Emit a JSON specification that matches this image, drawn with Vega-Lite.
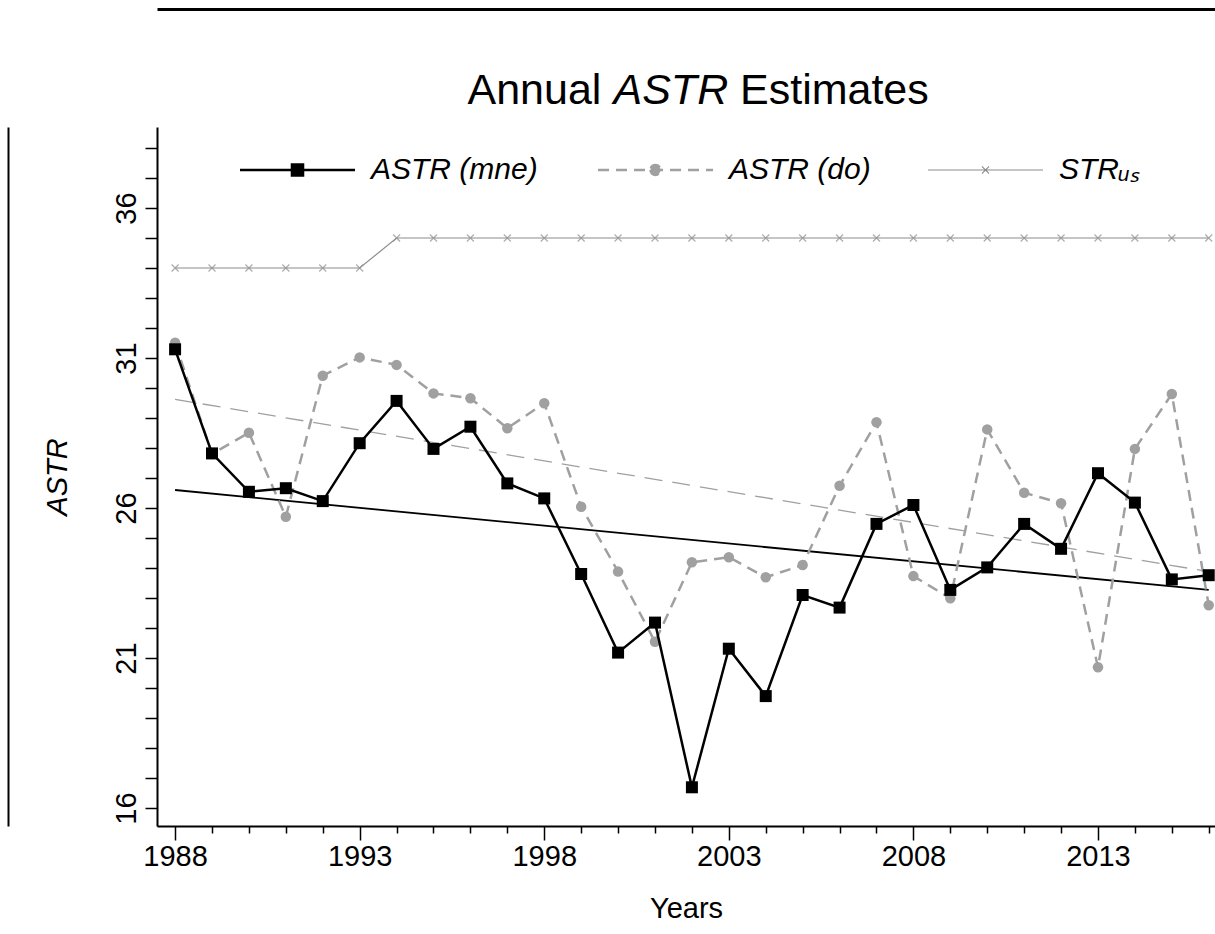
{
  "$schema": "https://vega.github.io/schema/vega-lite/v6.json",
  "autosize": "none",
  "padding": {"left": 157, "top": 127, "right": 0, "bottom": 108},
  "width": 1058,
  "height": 699,
  "background": "white",
  "config": {
    "view": {"stroke": null},
    "font": "Liberation Sans",
    "axis": {
      "grid": false,
      "domainColor": "black",
      "domainWidth": 2,
      "tickColor": "black",
      "tickWidth": 1.5,
      "labelColor": "black",
      "titleColor": "black",
      "labelFont": "Liberation Sans",
      "titleFont": "Liberation Sans",
      "labelFontSize": 29,
      "titleFontSize": 29,
      "titleFontWeight": "normal",
      "labelOverlap": false,
      "labelFlush": false
    }
  },
  "resolve": {"axis": {"x": "independent", "y": "independent"}},
  "data": {
    "values": [
      {"year": 1988, "series": "ASTR (mne)", "value": 31.29},
      {"year": 1989, "series": "ASTR (mne)", "value": 27.82},
      {"year": 1990, "series": "ASTR (mne)", "value": 26.54},
      {"year": 1991, "series": "ASTR (mne)", "value": 26.66},
      {"year": 1992, "series": "ASTR (mne)", "value": 26.23},
      {"year": 1993, "series": "ASTR (mne)", "value": 28.16},
      {"year": 1994, "series": "ASTR (mne)", "value": 29.57},
      {"year": 1995, "series": "ASTR (mne)", "value": 27.97},
      {"year": 1996, "series": "ASTR (mne)", "value": 28.71},
      {"year": 1997, "series": "ASTR (mne)", "value": 26.82},
      {"year": 1998, "series": "ASTR (mne)", "value": 26.32},
      {"year": 1999, "series": "ASTR (mne)", "value": 23.8},
      {"year": 2000, "series": "ASTR (mne)", "value": 21.18},
      {"year": 2001, "series": "ASTR (mne)", "value": 22.18},
      {"year": 2002, "series": "ASTR (mne)", "value": 16.69},
      {"year": 2003, "series": "ASTR (mne)", "value": 21.31},
      {"year": 2004, "series": "ASTR (mne)", "value": 19.73},
      {"year": 2005, "series": "ASTR (mne)", "value": 23.1},
      {"year": 2006, "series": "ASTR (mne)", "value": 22.68},
      {"year": 2007, "series": "ASTR (mne)", "value": 25.47},
      {"year": 2008, "series": "ASTR (mne)", "value": 26.1},
      {"year": 2009, "series": "ASTR (mne)", "value": 23.27},
      {"year": 2010, "series": "ASTR (mne)", "value": 24.02},
      {"year": 2011, "series": "ASTR (mne)", "value": 25.47},
      {"year": 2012, "series": "ASTR (mne)", "value": 24.64},
      {"year": 2013, "series": "ASTR (mne)", "value": 27.16},
      {"year": 2014, "series": "ASTR (mne)", "value": 26.18},
      {"year": 2015, "series": "ASTR (mne)", "value": 23.62},
      {"year": 2016, "series": "ASTR (mne)", "value": 23.76},
      {"year": 1988, "series": "ASTR (do)", "value": 31.51},
      {"year": 1989, "series": "ASTR (do)", "value": 27.8},
      {"year": 1990, "series": "ASTR (do)", "value": 28.51},
      {"year": 1991, "series": "ASTR (do)", "value": 25.71},
      {"year": 1992, "series": "ASTR (do)", "value": 30.41},
      {"year": 1993, "series": "ASTR (do)", "value": 31.02},
      {"year": 1994, "series": "ASTR (do)", "value": 30.77},
      {"year": 1995, "series": "ASTR (do)", "value": 29.82},
      {"year": 1996, "series": "ASTR (do)", "value": 29.66},
      {"year": 1997, "series": "ASTR (do)", "value": 28.66},
      {"year": 1998, "series": "ASTR (do)", "value": 29.49},
      {"year": 1999, "series": "ASTR (do)", "value": 26.04},
      {"year": 2000, "series": "ASTR (do)", "value": 23.88},
      {"year": 2001, "series": "ASTR (do)", "value": 21.54},
      {"year": 2002, "series": "ASTR (do)", "value": 24.19},
      {"year": 2003, "series": "ASTR (do)", "value": 24.36},
      {"year": 2004, "series": "ASTR (do)", "value": 23.69},
      {"year": 2005, "series": "ASTR (do)", "value": 24.1},
      {"year": 2006, "series": "ASTR (do)", "value": 26.74},
      {"year": 2007, "series": "ASTR (do)", "value": 28.86},
      {"year": 2008, "series": "ASTR (do)", "value": 23.73},
      {"year": 2009, "series": "ASTR (do)", "value": 22.99},
      {"year": 2010, "series": "ASTR (do)", "value": 28.62},
      {"year": 2011, "series": "ASTR (do)", "value": 26.51},
      {"year": 2012, "series": "ASTR (do)", "value": 26.16},
      {"year": 2013, "series": "ASTR (do)", "value": 20.69},
      {"year": 2014, "series": "ASTR (do)", "value": 27.97},
      {"year": 2015, "series": "ASTR (do)", "value": 29.8},
      {"year": 2016, "series": "ASTR (do)", "value": 22.76},
      {"year": 1988, "series": "STRᵤₛ", "value": 34},
      {"year": 1989, "series": "STRᵤₛ", "value": 34},
      {"year": 1990, "series": "STRᵤₛ", "value": 34},
      {"year": 1991, "series": "STRᵤₛ", "value": 34},
      {"year": 1992, "series": "STRᵤₛ", "value": 34},
      {"year": 1993, "series": "STRᵤₛ", "value": 34},
      {"year": 1994, "series": "STRᵤₛ", "value": 35},
      {"year": 1995, "series": "STRᵤₛ", "value": 35},
      {"year": 1996, "series": "STRᵤₛ", "value": 35},
      {"year": 1997, "series": "STRᵤₛ", "value": 35},
      {"year": 1998, "series": "STRᵤₛ", "value": 35},
      {"year": 1999, "series": "STRᵤₛ", "value": 35},
      {"year": 2000, "series": "STRᵤₛ", "value": 35},
      {"year": 2001, "series": "STRᵤₛ", "value": 35},
      {"year": 2002, "series": "STRᵤₛ", "value": 35},
      {"year": 2003, "series": "STRᵤₛ", "value": 35},
      {"year": 2004, "series": "STRᵤₛ", "value": 35},
      {"year": 2005, "series": "STRᵤₛ", "value": 35},
      {"year": 2006, "series": "STRᵤₛ", "value": 35},
      {"year": 2007, "series": "STRᵤₛ", "value": 35},
      {"year": 2008, "series": "STRᵤₛ", "value": 35},
      {"year": 2009, "series": "STRᵤₛ", "value": 35},
      {"year": 2010, "series": "STRᵤₛ", "value": 35},
      {"year": 2011, "series": "STRᵤₛ", "value": 35},
      {"year": 2012, "series": "STRᵤₛ", "value": 35},
      {"year": 2013, "series": "STRᵤₛ", "value": 35},
      {"year": 2014, "series": "STRᵤₛ", "value": 35},
      {"year": 2015, "series": "STRᵤₛ", "value": 35},
      {"year": 2016, "series": "STRᵤₛ", "value": 35},
      {"year": 1988, "series": "Trend (mne)", "value": 26.6},
      {"year": 2016, "series": "Trend (mne)", "value": 23.27},
      {"year": 1988, "series": "Trend (do)", "value": 29.62},
      {"year": 2016, "series": "Trend (do)", "value": 23.88}
    ]
  },
  "encoding": {
    "x": {
      "field": "year",
      "type": "quantitative",
      "scale": {"domain": [1987.51, 2016.17], "nice": false, "zero": false},
      "axis": null
    },
    "y": {
      "field": "value",
      "type": "quantitative",
      "scale": {"domain": [15.4, 38.7], "nice": false, "zero": false},
      "axis": null
    },
    "color": {
      "field": "series",
      "type": "nominal",
      "scale": {"domain": ["ASTR (mne)", "ASTR (do)", "STRᵤₛ"], "range": ["#000000", "#a0a0a0", "#8c8c8c"]},
      "legend": {
        "orient": "none",
        "legendX": 125.5,
        "legendY": 28,
        "direction": "horizontal",
        "title": null,
        "symbolSize": 13225,
        "symbolType": {"expr": "datum.value === 'ASTR (mne)' ? 'M-1,0L1,0M-0.096,-0.096L0.096,-0.096L0.096,0.096L-0.096,0.096Z' : datum.value === 'ASTR (do)' ? 'M-1,0L1,0M-0.087,0A0.087,0.087 0 1,0 0.087,0A0.087,0.087 0 1,0 -0.087,0Z' : 'M-1,0L1,0M-0.061,-0.061L0.061,0.061M-0.061,0.061L0.061,-0.061'"},
        "symbolFillColor": {"expr": "datum.value === 'ASTR (mne)' ? '#000000' : datum.value === 'ASTR (do)' ? '#a0a0a0' : '#8c8c8c'"},
        "symbolStrokeWidth": {"expr": "datum.value === 'ASTR (mne)' || datum.value === 'ASTR (do)' ? 2.5 : 1.2"},
        "symbolDash": {"expr": "datum.value === 'ASTR (do)' ? [11, 7] : [1, 0]"},
        "labelFont": "Liberation Sans",
        "labelFontSize": 30,
        "labelFontStyle": "italic",
        "labelColor": "black",
        "labelOffset": 58.5,
        "columnPadding": 54,
        "labelLimit": 0
      }
    }
  },
  "layer": [
    {
      "transform": [{"filter": "datum.series === 'STRᵤₛ'"}],
      "mark": {"type": "line"},
      "encoding": {
        "x": {
          "field": "year",
          "type": "quantitative",
          "scale": {"domain": [1987.51, 2016.17], "nice": false, "zero": false},
          "axis": {
            "orient": "bottom",
            "title": "Years",
            "values": [1988, 1989, 1990, 1991, 1992, 1993, 1994, 1995, 1996, 1997, 1998, 1999, 2000, 2001, 2002, 2003, 2004, 2005, 2006, 2007, 2008, 2009, 2010, 2011, 2012, 2013, 2014, 2015, 2016],
            "format": "d",
            "labelExpr": "(datum.value - 1988) % 5 === 0 ? datum.label : ''",
            "tickSize": {"condition": {"test": "(datum.value - 1988) % 5 === 0", "value": 14}, "value": 7},
            "labelPadding": 2,
            "titlePadding": 23
          }
        },
        "y": {
          "field": "value",
          "type": "quantitative",
          "scale": {"domain": [15.4, 38.7], "nice": false, "zero": false},
          "axis": {
            "orient": "left",
            "title": "ASTR",
            "titleFontStyle": "italic",
            "values": [16, 17, 18, 19, 20, 21, 22, 23, 24, 25, 26, 27, 28, 29, 30, 31, 32, 33, 34, 35, 36, 37, 38],
            "format": "d",
            "labelExpr": "(datum.value - 16) % 5 === 0 ? datum.label : ''",
            "labelAngle": -90,
            "labelAlign": "center",
            "labelBaseline": "bottom",
            "tickSize": 12,
            "labelPadding": 4,
            "titlePadding": 40
          }
        },
        "strokeWidth": {"value": 1.2}
      }
    },
    {
      "transform": [{"filter": "datum.series === 'STRᵤₛ'"}],
      "mark": {"type": "point", "shape": "M-1,-1L1,1M-1,1L1,-1", "filled": false, "size": 49, "strokeWidth": 1.2},
      "encoding": {
        "x": {
          "field": "year",
          "type": "quantitative",
          "scale": {"domain": [1987.51, 2016.17], "nice": false, "zero": false},
          "axis": {"orient": "top", "domain": false, "ticks": false, "labels": false, "title": "Annual", "titleFontSize": 43, "titleFontStyle": "normal", "titleAlign": "left", "titleBaseline": "alphabetic", "titleAngle": 0, "titleX": 310, "titleY": -24}
        },
        "color": {"value": "#8c8c8c"}
      }
    },
    {
      "transform": [{"filter": "datum.series === 'Trend (do)'"}],
      "mark": {"type": "line", "strokeWidth": 1.3, "strokeDash": [18, 10]},
      "encoding": {
        "x": {
          "field": "year",
          "type": "quantitative",
          "scale": {"domain": [1987.51, 2016.17], "nice": false, "zero": false},
          "axis": {"orient": "top", "domain": false, "ticks": false, "labels": false, "title": "ASTR", "titleFontSize": 43, "titleFontStyle": "italic", "titleAlign": "left", "titleBaseline": "alphabetic", "titleAngle": 0, "titleX": 456, "titleY": -24}
        },
        "color": {"value": "#a0a0a0"}
      }
    },
    {
      "transform": [{"filter": "datum.series === 'Trend (mne)'"}],
      "mark": {"type": "line", "strokeWidth": 1.8},
      "encoding": {
        "x": {
          "field": "year",
          "type": "quantitative",
          "scale": {"domain": [1987.51, 2016.17], "nice": false, "zero": false},
          "axis": {"orient": "top", "domain": false, "ticks": false, "labels": false, "title": "Estimates", "titleFontSize": 43, "titleFontStyle": "normal", "titleAlign": "left", "titleBaseline": "alphabetic", "titleAngle": 0, "titleX": 582.5, "titleY": -24}
        },
        "color": {"value": "#000000"}
      }
    },
    {
      "transform": [{"filter": "datum.series === 'ASTR (do)'"}],
      "mark": {"type": "line"},
      "encoding": {
        "x": {
          "field": "year",
          "type": "quantitative",
          "scale": {"domain": [1987.51, 2016.17], "nice": false, "zero": false},
          "axis": {"orient": "top", "offset": 118, "domain": true, "domainWidth": 3, "ticks": false, "labels": false, "title": null}
        },
        "strokeWidth": {"value": 2.5},
        "strokeDash": {"value": [11, 7]}
      }
    },
    {
      "transform": [{"filter": "datum.series === 'ASTR (do)'"}],
      "mark": {"type": "point", "shape": "circle", "filled": true, "opacity": 1, "size": 110},
      "encoding": {
        "y": {
          "field": "value",
          "type": "quantitative",
          "scale": {"domain": [15.4, 38.7], "nice": false, "zero": false},
          "axis": {"orient": "left", "offset": 149, "domain": true, "domainWidth": 2, "ticks": false, "labels": false, "title": null}
        },
        "color": {"value": "#a0a0a0"}
      }
    },
    {
      "transform": [{"filter": "datum.series === 'ASTR (mne)'"}],
      "mark": {"type": "line"},
      "encoding": {"strokeWidth": {"value": 2.5}}
    },
    {
      "transform": [{"filter": "datum.series === 'ASTR (mne)'"}],
      "mark": {"type": "point", "shape": "square", "filled": true, "opacity": 1, "size": 144},
      "encoding": {"color": {"value": "#000000"}}
    }
  ]
}
